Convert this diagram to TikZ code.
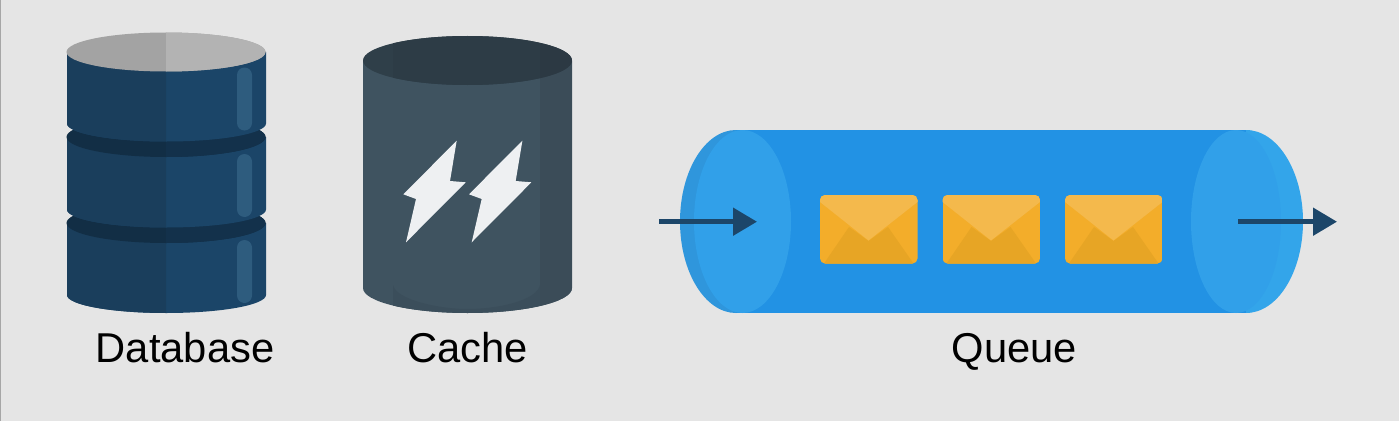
\documentclass[tikz,border=0pt]{standalone}
\usepackage{fontspec}
\setmainfont{Liberation Sans}
\usetikzlibrary{arrows.meta}
\definecolor{bgc}{HTML}{E5E5E5}
\definecolor{dbL}{HTML}{1A3E5C}
\definecolor{dbR}{HTML}{1B4568}
\definecolor{bandL}{HTML}{122E45}
\definecolor{bandR}{HTML}{13314B}
\definecolor{topL}{HTML}{A3A3A3}
\definecolor{topR}{HTML}{B3B3B3}
\definecolor{hl}{HTML}{2E5C7E}
\definecolor{caBody}{HTML}{3F5360}
\definecolor{caEdge}{HTML}{3B4E5B}
\definecolor{caRight}{HTML}{3B4C58}
\definecolor{caTop}{HTML}{2F3F49}
\definecolor{caTopIn}{HTML}{2D3C46}
\definecolor{caTopR}{HTML}{2C3943}
\definecolor{bolt}{HTML}{EEF0F2}
\definecolor{qBody}{HTML}{2292E4}
\definecolor{qLeft}{HTML}{2F96DC}
\definecolor{qRight}{HTML}{33A5EA}
\definecolor{qIn}{HTML}{31A0E9}
\definecolor{envBase}{HTML}{F3AD2A}
\definecolor{envFold}{HTML}{E7A525}
\definecolor{envFlap}{HTML}{F4B94C}
\definecolor{arr}{HTML}{1C4669}
\tikzset{
  lbl/.style={font=\fontsize{41.7}{42}\selectfont, text=black, anchor=base, inner sep=0pt},
  flow/.style={draw=arr, line width=5pt, -{Triangle[length=24pt,width=27pt]}},
}
% two-tone database slice: top side y, bottom side y
\newcommand{\dbslice}[2]{%
  \fill[dbR] (67,#1) -- (67,#2) arc[start angle=180,end angle=0,x radius=99.5,y radius=18] -- (266,#1) -- cycle;
  \begin{scope}
    \clip (0,0) rectangle (166,420);
    \fill[dbL] (67,#1) -- (67,#2) arc[start angle=180,end angle=0,x radius=99.5,y radius=18] -- (266,#1) -- cycle;
  \end{scope}
}
\newcommand{\dbdisc}[4]{%
  \fill[#3] (166,#1) ellipse[x radius=99.5,y radius=#2];
  \begin{scope}
    \clip (166,0) rectangle (300,420);
    \fill[#4] (166,#1) ellipse[x radius=99.5,y radius=#2];
  \end{scope}
}
\newcommand{\dbhl}[1]{\fill[hl, rounded corners=7.5pt] (237,#1) rectangle (252,#1+63);}
\newcommand{\envelope}[1]{%
  \begin{scope}[shift={(#1,0)}]
    \begin{scope}
      \clip[rounded corners=5pt] (0,195) rectangle (97.5,263.5);
      \fill[envBase] (0,195) rectangle (97.5,263.5);
      \fill[envFold] (4,263.5) -- (29,227) -- (48.5,241) -- (68,227) -- (93.5,263.5) -- cycle;
      \fill[envFlap] (0,195) -- (97.5,195) -- (97.5,202) -- (48.5,240.5) -- (0,202) -- cycle;
    \end{scope}
  \end{scope}
}
\newcommand{\boltshape}[1]{%
  \fill[bolt, shift={(#1,0)}] (456.7,140.7) -- (450,181) -- (465.7,182.3) -- (406,242.3) -- (416,199) -- (403.3,194.3) -- cycle;
}
\begin{document}
\begin{tikzpicture}[x=1pt,y=1pt,yscale=-1]
\useasboundingbox (0,0) rectangle (1399,420);
\fill[bgc] (-2,-2) rectangle (1401,422);
\fill[black!35] (-2,-2) rectangle (1,422);

% Database
\dbslice{223}{295}
\dbhl{240}
\dbdisc{223}{20}{bandL}{bandR}
\dbslice{137}{209.5}
\dbhl{154}
\dbdisc{137}{20}{bandL}{bandR}
\dbslice{52}{123.5}
\dbhl{67.5}
\dbdisc{52}{19.5}{topL}{topR}

% Cache
\fill[caBody] (363,61) -- (363,288) arc[start angle=180,end angle=0,x radius=104.5,y radius=25] -- (572,61) -- cycle;
\begin{scope}
  \clip (363,61) -- (363,288) arc[start angle=180,end angle=0,x radius=104.5,y radius=25] -- (572,61) -- cycle;
  \fill[caEdge] (393,285) .. controls (396,300) and (440,309) .. (467,309) .. controls (500,309) and (537,300) .. (540,285) -- (540,320) -- (393,320) -- cycle;
  \fill[caRight] (540,61) rectangle (572,320);
\end{scope}
\fill[caTop] (467.5,60.5) ellipse[x radius=104.5,y radius=24.5];
\begin{scope}
  \clip (467.5,60.5) ellipse[x radius=104.5,y radius=24.5];
  \fill[caTopIn] (393,30) rectangle (540,90);
  \fill[caTopR] (540,30) rectangle (572,90);
\end{scope}
\boltshape{0}
\boltshape{65.7}

% Queue
\fill[qBody] (736,130) rectangle (1246,313);
\fill[qLeft] (736,130) arc[start angle=-90,end angle=-270,x radius=56,y radius=91.5] -- cycle;
\fill[qIn] (742.5,221.5) ellipse[x radius=48.5,y radius=91.5];
\fill[qRight] (1246,130) arc[start angle=-90,end angle=90,x radius=57,y radius=91.5] -- cycle;
\fill[qIn] (1236,221.5) ellipse[x radius=45,y radius=91.5];
\envelope{820}
\envelope{942.5}
\envelope{1065}

\coordinate (inS) at (659,221.7);
\coordinate (inE) at (757,221.7);
\coordinate (outS) at (1238,221.7);
\coordinate (outE) at (1337,221.7);
\draw[flow] (inS) -- (inE);
\draw[flow] (outS) -- (outE);

% Labels
\node[lbl] (dbLabel) at (185,362) {Database};
\node[lbl] (cacheLabel) at (467.5,362) {Cache};
\node[lbl] (queueLabel) at (1014.5,362) {Queue};
\end{tikzpicture}
\end{document}
